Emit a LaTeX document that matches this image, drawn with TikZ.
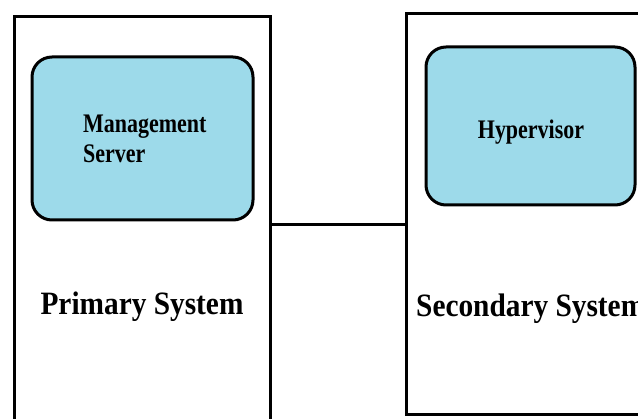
\documentclass[tikz,border=0pt]{standalone}
\usepackage{fontspec}
\setmainfont{Liberation Serif}
\newfontfamily\boxfont[FakeStretch=0.82]{Liberation Serif}
\newfontfamily\sysfont[FakeStretch=0.9]{Liberation Serif}
\usetikzlibrary{positioning}
\definecolor{serverblue}{RGB}{157,218,234}
\tikzset{
  sysbox/.style={draw,line width=3pt,inner sep=0pt},
  unitbox/.style={draw,line width=3pt,rounded corners=20pt,fill=serverblue,inner sep=0pt},
  syslabel/.style={inner sep=0pt,font=\sysfont\fontsize{32.6}{36}\selectfont\bfseries},
  unitlabel/.style={inner sep=0pt,font=\boxfont\fontsize{26.8}{30}\selectfont\bfseries}
}

\begin{document}
\begin{tikzpicture}[x=1pt,y=-1pt]
\useasboundingbox(0,0)rectangle(638,419);
\clip(0,0)rectangle(638,419);
%system boxes
\node[sysbox,minimum width=256pt,minimum height=416pt](primary)at(142,225){}; %left
\node[sysbox,minimum width=256pt,minimum height=401pt](secondary)at(534,214.5){}; %right
%link
\draw[line width=3pt](primary.east)--(primary.east-|secondary.west);
%inner boxes
\node[unitbox,minimum width=221pt,minimum height=163pt](mgmt)at(142.5,138.5){};
\node[unitbox,minimum width=209pt,minimum height=158pt](hyp)at(530.5,126){};
%labels
\node[unitlabel,align=left,anchor=north west](mgmttext)at(83,115){Management\\Server};
\node[unitlabel](hyptext)at(531,132){Hypervisor};
\node[syslabel,anchor=base](primtext)at(142,315){Primary System};
\node[syslabel,anchor=base west](sectext)at(416,317){Secondary System};
\end{tikzpicture}
\end{document}
